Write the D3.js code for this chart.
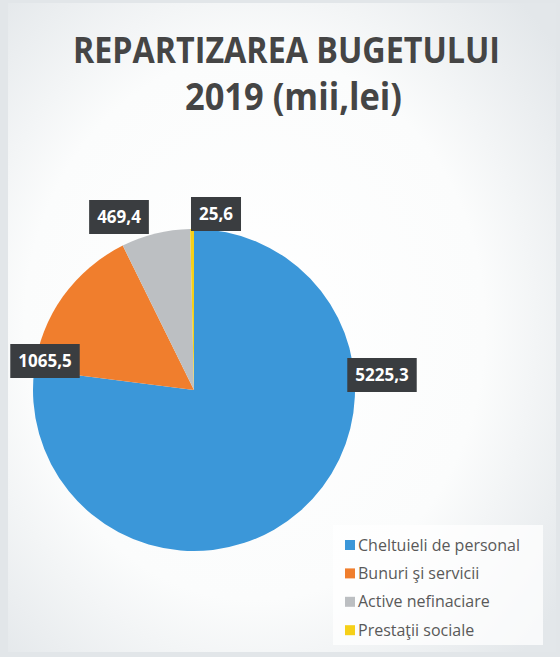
<!DOCTYPE html>
<html>
<head>
<meta charset="utf-8">
<script src="https://cdn.jsdelivr.net/npm/d3@7"></script>
<style>
  html, body { margin: 0; padding: 0; background: #e4e8eb; }
  svg { display: block; }
</style>
</head>
<body>
<svg id="chart" width="560" height="657"></svg>
<script>
// ---- data ----
const categories = ["Cheltuieli de personal", "Bunuri şi servicii", "Active nefinaciare", "Prestaţii sociale"];
const values = [5225.3, 1065.5, 469.4, 25.6];
const valueLabels = ["5225,3", "1065,5", "469,4", "25,6"];
const colors = ["#3b97d9", "#f07e2d", "#bcbfc2", "#f6d018"];
const titleLines = ["REPARTIZAREA BUGETULUI", "2019 (mii,lei)"];

// ---- layout ----
const W = 560, H = 657;
const cx = 194, cy = 390, R = 161;
// callout offsets relative to pie centre (label box centres)
const labelOffsets = [[188, -15], [-149, -29], [-75, -173], [22, -176]];

const svg = d3.select("#chart");
const defs = svg.append("defs");
const grad = defs.append("radialGradient").attr("id", "bg")
  .attr("cx", "45%").attr("cy", "50%").attr("r", "70%");
grad.append("stop").attr("offset", "0%").attr("stop-color", "#ffffff");
grad.append("stop").attr("offset", "60%").attr("stop-color", "#fbfcfc");
grad.append("stop").attr("offset", "100%").attr("stop-color", "#e3e7ea");

svg.append("rect").attr("width", W).attr("height", H).attr("fill", "#e2e6e9");
svg.append("rect").attr("x", 8).attr("y", 3).attr("width", W - 12).attr("height", H - 8)
  .attr("fill", "url(#bg)");

// title
const title = svg.append("g").attr("font-family", "'Open Sans', 'Liberation Sans', sans-serif")
  .attr("font-weight", "bold").attr("fill", "#454545").attr("text-anchor", "middle");
title.append("text").attr("x", 286.5).attr("y", 63).attr("font-size", 36)
  .attr("textLength", 427).attr("lengthAdjust", "spacingAndGlyphs").text(titleLines[0]);
title.append("text").attr("x", 293.5).attr("y", 110).attr("font-size", 37)
  .attr("textLength", 217).attr("lengthAdjust", "spacingAndGlyphs").text(titleLines[1]);

// pie
const pie = d3.pie().sort(null).value(d => d);
const arcs = pie(values);
const arc = d3.arc().innerRadius(0).outerRadius(R);
const g = svg.append("g").attr("transform", `translate(${cx},${cy})`);
g.selectAll("path").data(arcs).join("path")
  .attr("d", arc)
  .attr("fill", (d, i) => colors[i]);

// callout labels
const lab = g.selectAll("g.lab").data(arcs).join("g").attr("class", "lab")
  .attr("transform", (d, i) => `translate(${labelOffsets[i][0]},${labelOffsets[i][1]})`);
lab.each(function(d, i) {
  const sel = d3.select(this);
  const t = sel.append("text")
    .attr("text-anchor", "middle").attr("dy", "0.35em")
    .attr("font-family", "'Open Sans', sans-serif").attr("font-weight", "bold")
    .attr("font-size", 17).attr("fill", "#ffffff")
    .text(valueLabels[i]);
  const w = t.node().getComputedTextLength();
  sel.insert("rect", "text")
    .attr("x", -w / 2 - 8).attr("y", -17).attr("width", w + 16).attr("height", 34)
    .attr("fill", "#3a3d40");
});

// legend
const lg = svg.append("g");
lg.append("rect").attr("x", 333).attr("y", 525).attr("width", 210).attr("height", 120)
  .attr("fill", "#ffffff").attr("opacity", 0.75);
const items = lg.selectAll("g.item").data(categories).join("g").attr("class", "item")
  .attr("transform", (d, i) => `translate(345, ${545 + i * 28.4})`);
items.append("rect").attr("x", 0).attr("y", -5).attr("width", 10).attr("height", 10)
  .attr("fill", (d, i) => colors[i]);
items.append("text").attr("x", 13).attr("dy", "0.35em")
  .attr("font-family", "'Open Sans', sans-serif").attr("font-size", 16)
  .attr("fill", "#595959").text(d => d);
</script>
</body>
</html>
